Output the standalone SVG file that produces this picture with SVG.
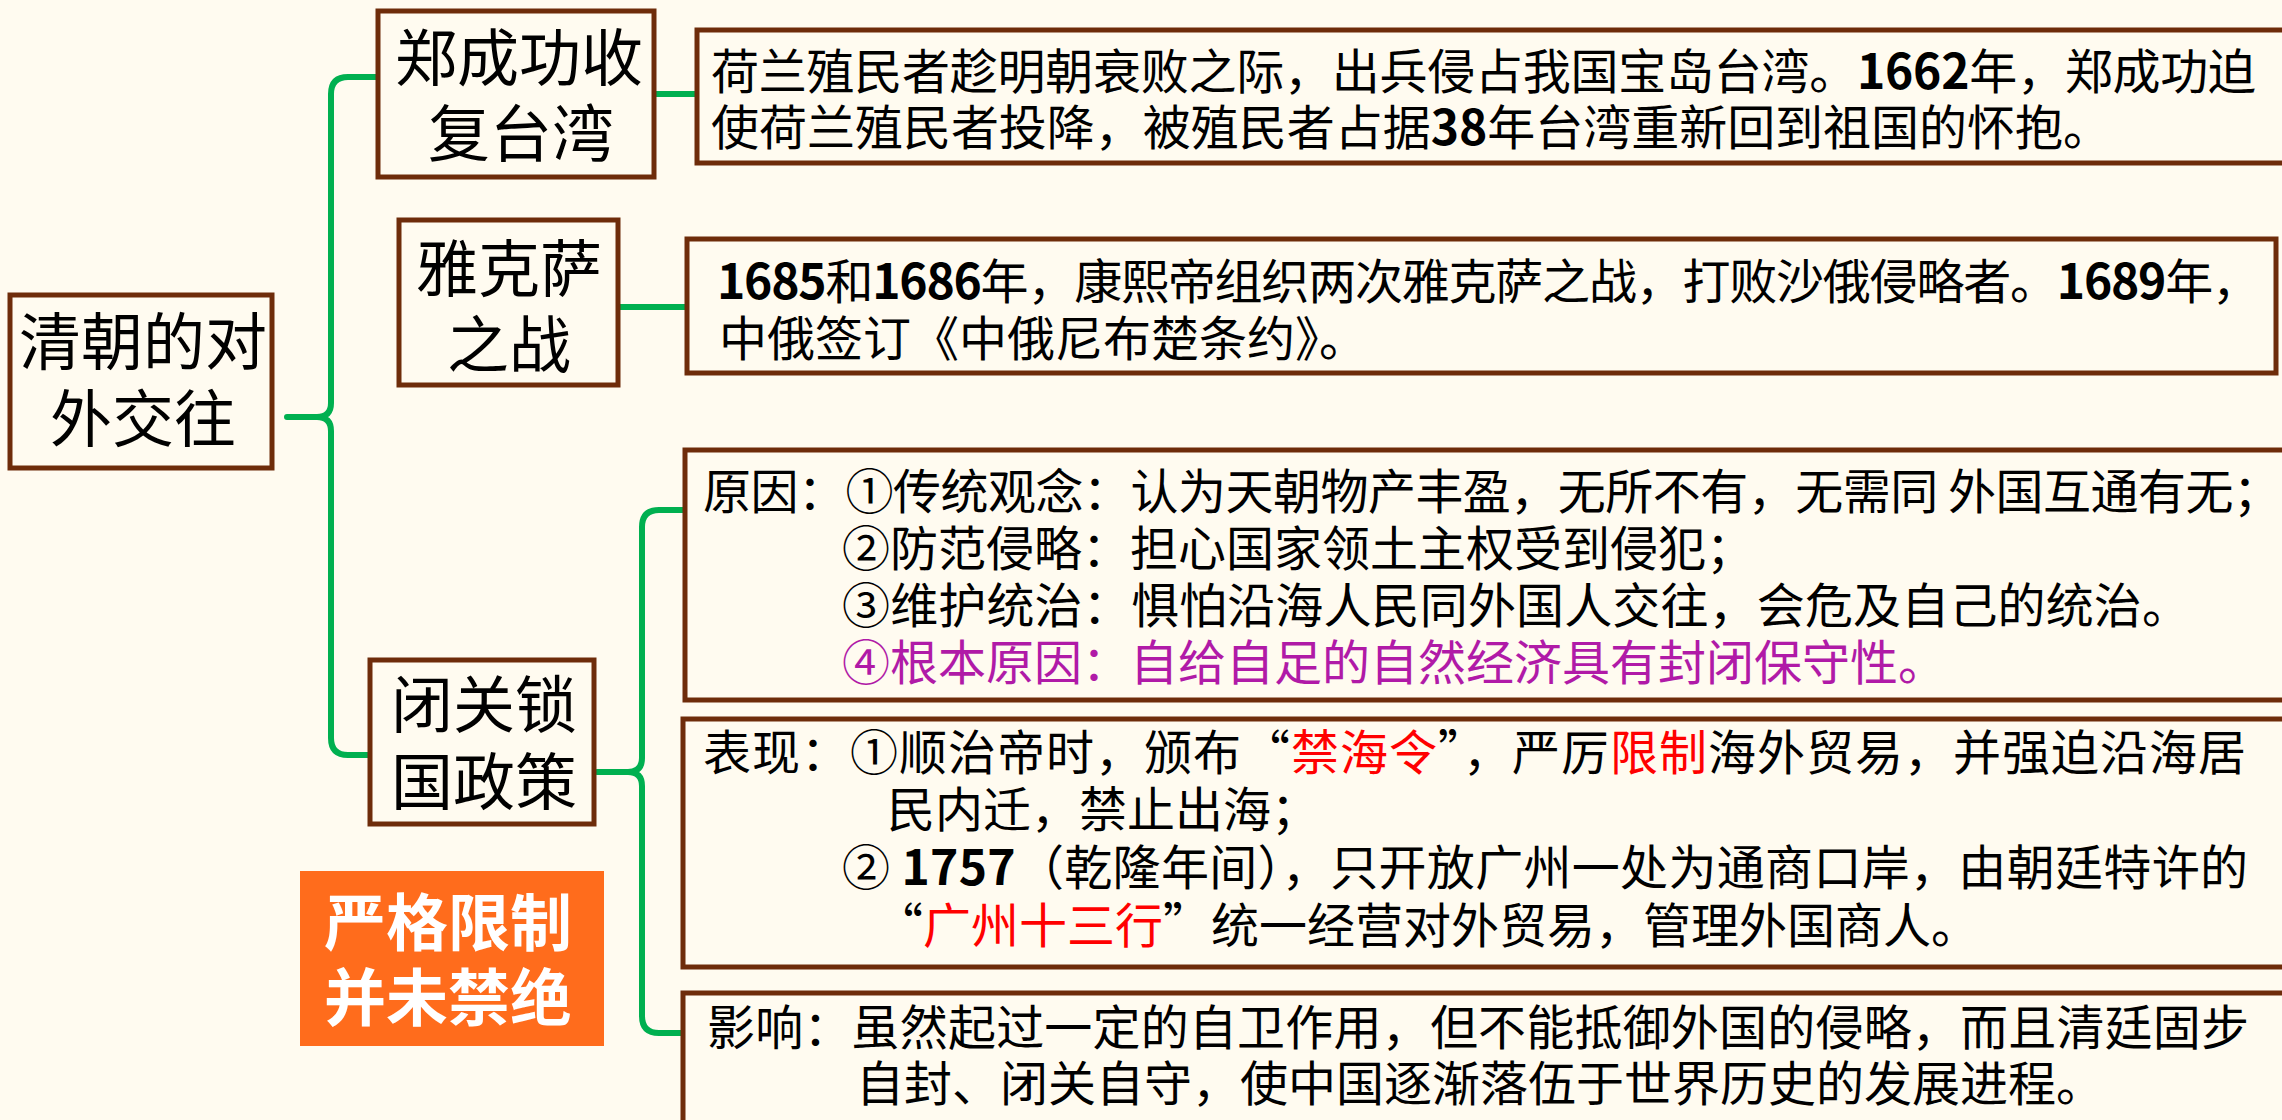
<svg xmlns="http://www.w3.org/2000/svg" width="2282" height="1120" viewBox="0 0 2282 1120">
<style>
.bg{fill:#FFFBF0}
.box{fill:#FFFBF0;stroke:#6E2C0A;stroke-width:5}
.conn{fill:none;stroke:#00B050;stroke-width:6;stroke-linecap:round;stroke-linejoin:round}
.node{font-family:"Noto Sans CJK SC","Noto Sans",sans-serif;font-size:62px;fill:#000;text-anchor:middle}
.det{font-family:"Noto Sans CJK SC","Noto Sans",sans-serif;font-size:48px;fill:#000}
.num{font-weight:bold}
.red{fill:#FF0000}
.mag{fill:#B01AA7}
.tag{font-family:"Noto Sans CJK SC","Noto Sans",sans-serif;font-size:62px;font-weight:bold;fill:#FFFFFF;text-anchor:middle}
</style>
<rect class="bg" x="0" y="0" width="2282" height="1120"/>

<g id="connectors">
<path class="conn" d="M 376 77 H 348 Q 331 77 331 94 V 403 Q 331 417 317 417 H 287 M 317 417 Q 331 417 331 431 V 738 Q 331 755 348 755 H 368"/>
<path class="conn" d="M 683 510 H 659 Q 642 510 642 527 V 758 Q 642 772 628 772 H 597 M 628 772 Q 642 772 642 786 V 1016 Q 642 1033 659 1033 H 683"/>
<path class="conn" d="M 656 94 H 697"/>
<path class="conn" d="M 619 307 H 687"/>
</g>

<g id="root">
<rect class="box" x="10" y="295" width="262" height="173"/>
<text class="node" x="143" y="365">清朝的对</text>
<text class="node" x="143" y="442">外交往</text>
</g>

<g id="n-zheng">
<rect class="box" x="378" y="11" width="276" height="166"/>
<text class="node" x="519" y="81">郑成功收</text>
<text class="node" x="521" y="157">复台湾</text>
</g>

<g id="n-yakesa">
<rect class="box" x="399" y="220" width="219" height="165"/>
<text class="node" x="509" y="292">雅克萨</text>
<text class="node" x="509" y="368">之战</text>
</g>

<g id="n-biguan">
<rect class="box" x="370" y="660" width="224" height="164"/>
<text class="node" x="484" y="728">闭关锁</text>
<text class="node" x="484" y="805">国政策</text>
</g>

<g id="tag">
<rect x="300" y="871" width="304" height="175" fill="#FF6C1C"/>
<text class="tag" x="448" y="946">严格限制</text>
<text class="tag" x="448" y="1021">并未禁绝</text>
</g>

<g id="d-zheng">
<rect class="box" x="697" y="30" width="1600" height="133"/>
<text class="det" x="711" y="89" textLength="1545" lengthAdjust="spacing">荷兰殖民者趁明朝衰败之际，出兵侵占我国宝岛台湾。<tspan class="num">1662</tspan>年，郑成功迫</text>
<text class="det" x="711" y="145" textLength="1400" lengthAdjust="spacing">使荷兰殖民者投降，被殖民者占据<tspan class="num">38</tspan>年台湾重新回到祖国的怀抱。</text>
</g>

<g id="d-yakesa">
<rect class="box" x="687" y="239" width="1589" height="134"/>
<text class="det" x="717" y="299" textLength="1543" lengthAdjust="spacing"><tspan class="num">1685</tspan>和<tspan class="num">1686</tspan>年，康熙帝组织两次雅克萨之战，打败沙俄侵略者。<tspan class="num">1689</tspan>年，</text>
<text class="det" x="719" y="356">中俄签订《中俄尼布楚条约》。</text>
</g>

<g id="d-yuanyin">
<rect class="box" x="685" y="450" width="1610" height="250"/>
<text class="det" x="703" y="509" textLength="1578" lengthAdjust="spacing">原因：①传统观念：认为天朝物产丰盈，无所不有，无需同 外国互通有无；</text>
<text class="det" x="842" y="566">②防范侵略：担心国家领土主权受到侵犯；</text>
<text class="det" x="842" y="623" textLength="1348" lengthAdjust="spacing">③维护统治：惧怕沿海人民同外国人交往，会危及自己的统治。</text>
<text class="det mag" x="842" y="680">④根本原因：自给自足的自然经济具有封闭保守性。</text>
</g>

<g id="d-biaoxian">
<rect class="box" x="683" y="719" width="1610" height="248"/>
<text class="det" x="703" y="770" textLength="1543" lengthAdjust="spacing">表现：①顺治帝时，颁布“<tspan class="red">禁海令</tspan>”，严厉<tspan class="red">限制</tspan>海外贸易，并强迫沿海居</text>
<text class="det" x="887" y="827">民内迁，禁止出海；</text>
<text class="det" x="842" y="885" textLength="1406" lengthAdjust="spacing">② <tspan class="num">1757</tspan>（乾隆年间），只开放广州一处为通商口岸，由朝廷特许的</text>
<text class="det" x="875" y="943">“<tspan class="red">广州十三行</tspan>”统一经营对外贸易，管理外国商人。</text>
</g>

<g id="d-yingxiang">
<rect class="box" x="683" y="993" width="1610" height="200"/>
<text class="det" x="707" y="1045" textLength="1542" lengthAdjust="spacing">影响：虽然起过一定的自卫作用，但不能抵御外国的侵略，而且清廷固步</text>
<text class="det" x="856" y="1101">自封、闭关自守，使中国逐渐落伍于世界历史的发展进程。</text>
</g>
</svg>
